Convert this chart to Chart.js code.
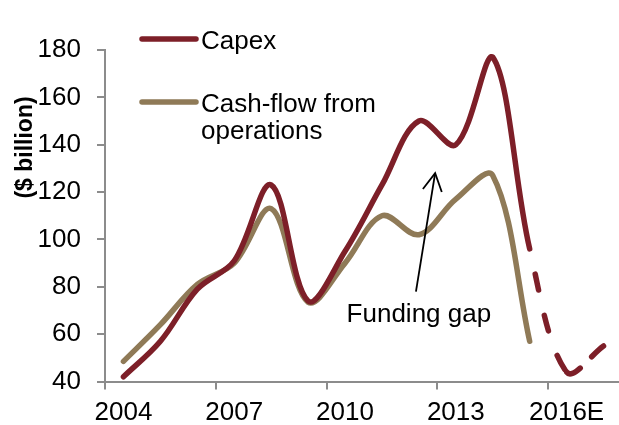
<!DOCTYPE html>
<html>
<head>
<meta charset="utf-8">
<script src="https://cdn.jsdelivr.net/npm/chart.js@4.4.1/dist/chart.umd.min.js"></script>
<style>
  html, body { margin: 0; padding: 0; background: #fff; overflow: hidden; }
  #wrap { width: 622px; height: 425px; }
</style>
</head>
<body>
<div id="wrap"><canvas id="chart" width="622" height="425"></canvas></div>
<script>
// Years on the category axis (2016 onwards are estimates)
const years = ['2004', '2005', '2006', '2007', '2008', '2009', '2010', '2011',
               '2012', '2013', '2014', '2015', '2016E', '2017E'];
// Capital expenditure, $ billion
const capex = [42, 57, 79, 91, 123, 74, 95, 123, 150, 140, 177, 96, 44, 55];
// Cash-flow from operations, $ billion
const cashFlow = [48.5, 64, 81, 90, 113, 73.5, 90, 110, 102, 117, 127, 57, null, null];
// First index of the forecast (dashed) capex segment
const forecastStart = 11;
// Y axis range
const yTicks = { min: 40, max: 180, step: 20 };
const seriesNames = ['Capex', 'Cash-flow from', 'operations'];
const yTitle = '($ billion)';
const gapLabel = 'Funding gap';
// Label anchor and arrow end points in (category index, value)
const gapLabelAt = [8, 68];
const arrowFrom = [7.92, 78];
const arrowTo = [8.44, 128];

const CAPEX = '#7D1F28';
const CFO = '#8F7A57';
const AXIS = '#8C8C8C';
const FONT = '"Liberation Sans", Arial, Helvetica, sans-serif';
const LINE_W = 5.5;
const TENSION = 0.35;

// Dash pattern of each forecast segment: [dash, gap] and starting offset
function forecastDash(i) {
  if (i === forecastStart) return { dash: [16, 26], offset: 16 };
  if (i > forecastStart) return { dash: [16, 16], offset: 0 };
  return null;
}

const overlay = {
  id: 'overlay',
  afterDatasetsDraw(chart) {
    const { ctx, chartArea, scales: { x, y } } = chart;
    ctx.save();

    // Vertical axis title
    ctx.save();
    ctx.font = 'bold 23px ' + FONT;
    ctx.fillStyle = '#000';
    ctx.translate(26, 147.5);
    ctx.rotate(-Math.PI / 2);
    ctx.textAlign = 'center';
    ctx.textBaseline = 'middle';
    ctx.fillText(yTitle, 0, 0);
    ctx.restore();

    // Legend
    const lx0 = chartArea.left + 37, lx1 = chartArea.left + 91, tx = chartArea.left + 96;
    ctx.lineCap = 'round';
    ctx.lineWidth = LINE_W;
    ctx.strokeStyle = CAPEX;
    ctx.beginPath(); ctx.moveTo(lx0, 39); ctx.lineTo(lx1, 39); ctx.stroke();
    ctx.strokeStyle = CFO;
    ctx.beginPath(); ctx.moveTo(lx0, 102); ctx.lineTo(lx1, 102); ctx.stroke();
    ctx.font = '26px ' + FONT;
    ctx.fillStyle = '#000';
    ctx.textAlign = 'left';
    ctx.textBaseline = 'alphabetic';
    ctx.fillText(seriesNames[0], tx, 48.5);
    ctx.fillText(seriesNames[1], tx, 111.5);
    ctx.fillText(seriesNames[2], tx, 138.5);

    // Funding gap annotation
    ctx.textAlign = 'center';
    ctx.textBaseline = 'middle';
    ctx.fillText(gapLabel, x.getPixelForValue(gapLabelAt[0]), y.getPixelForValue(gapLabelAt[1]));

    const ax0 = x.getPixelForValue(arrowFrom[0]), ay0 = y.getPixelForValue(arrowFrom[1]);
    const ax1 = x.getPixelForValue(arrowTo[0]), ay1 = y.getPixelForValue(arrowTo[1]);
    const ang = Math.atan2(ay1 - ay0, ax1 - ax0);
    const head = 20, spread = Math.PI / 6.3;
    ctx.strokeStyle = '#000';
    ctx.lineWidth = 1.8;
    ctx.lineCap = 'butt';
    ctx.beginPath(); ctx.moveTo(ax0, ay0); ctx.lineTo(ax1, ay1); ctx.stroke();
    ctx.beginPath();
    ctx.moveTo(ax1 - head * Math.cos(ang - spread), ay1 - head * Math.sin(ang - spread));
    ctx.lineTo(ax1, ay1);
    ctx.lineTo(ax1 - head * Math.cos(ang + spread), ay1 - head * Math.sin(ang + spread));
    ctx.stroke();
    ctx.restore();
  }
};

new Chart(document.getElementById('chart'), {
  type: 'line',
  data: {
    labels: years,
    datasets: [
      {
        label: 'Capex',
        data: capex,
        borderColor: CAPEX,
        borderWidth: LINE_W,
        borderCapStyle: 'round',
        borderJoinStyle: 'round',
        pointRadius: 0,
        tension: TENSION,
        fill: false,
        segment: {
          borderDash: c => { const d = forecastDash(c.p0DataIndex); return d ? d.dash : undefined; },
          borderDashOffset: c => { const d = forecastDash(c.p0DataIndex); return d ? d.offset : undefined; }
        }
      },
      {
        label: 'Cash-flow from operations',
        data: cashFlow,
        borderColor: CFO,
        borderWidth: LINE_W,
        borderCapStyle: 'round',
        borderJoinStyle: 'round',
        pointRadius: 0,
        tension: TENSION,
        fill: false
      }
    ]
  },
  options: {
    responsive: false,
    animation: false,
    events: [],
    layout: { padding: { top: 50, right: 0, left: 0, bottom: 0 } },
    plugins: { legend: { display: false }, tooltip: { enabled: false } },
    scales: {
      x: {
        type: 'category',
        offset: true,
        afterFit: s => { s.height = 43.5; },
        border: { display: true, color: AXIS, width: 2 },
        grid: {
          offset: true,
          drawOnChartArea: false,
          drawTicks: true,
          tickLength: 8,
          lineWidth: 2,
          color: c => (c.index % 3 === 0 ? AXIS : 'rgba(0,0,0,0)')
        },
        ticks: {
          autoSkip: false,
          maxRotation: 0,
          minRotation: 0,
          padding: 8,
          color: '#000',
          font: { family: FONT, size: 26 },
          callback: (v, i) => (i % 3 === 0 ? years[i] : '')
        }
      },
      y: {
        min: yTicks.min,
        max: yTicks.max,
        afterFit: s => { s.width = 105; },
        border: { display: true, color: AXIS, width: 2 },
        grid: {
          drawOnChartArea: false,
          drawTicks: true,
          tickLength: 8,
          lineWidth: 2,
          color: AXIS
        },
        ticks: {
          stepSize: yTicks.step,
          padding: 16,
          color: '#000',
          font: { family: FONT, size: 26 }
        }
      }
    }
  },
  plugins: [overlay]
});
</script>
</body>
</html>
